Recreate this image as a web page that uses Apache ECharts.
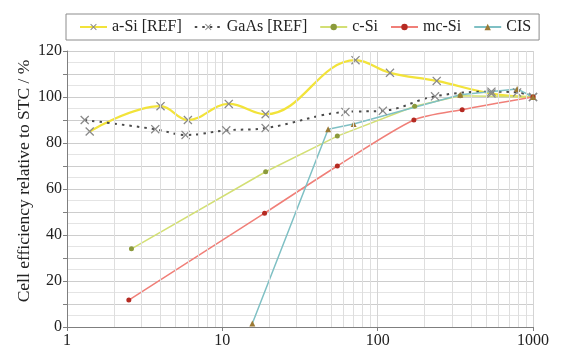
<!DOCTYPE html>
<html>
<head>
<meta charset="utf-8">
<script src="https://cdn.jsdelivr.net/npm/echarts@6/dist/echarts.min.js"></script>
<style>
  html, body { margin: 0; padding: 0; background: #fff; }
  #chart { width: 561px; height: 353px; }
</style>
</head>
<body>
<div id="chart"></div>
<script>
// intensity (x) vs. relative efficiency (y)
const aSiX = [1.4, 4, 6, 11, 19, 72, 120, 240, 540, 1000]
const aSiY = [85, 96, 90, 97, 92.5, 116, 110.5, 107, 101.5, 100]

const gaAsX = [1.3, 3.7, 5.8, 10.6, 19, 62, 108, 234, 540, 790, 1000]
const gaAsY = [90, 86, 83.5, 85.5, 86.5, 93.5, 94, 100.3, 102.3, 102, 100]

const cSiX = [2.6, 19, 55, 173, 340, 1000]
const cSiY = [34, 67.5, 83, 96, 100.5, 100]

const mcSiX = [2.5, 18.7, 55, 171, 350, 1000]
const mcSiY = [11.7, 49.5, 70, 90, 94.5, 100]

const cisX = [15.6, 48, 70, 340, 790, 1000]
const cisY = [1.5, 86, 88.3, 101, 103.5, 100]

const minorLogTicks = [2, 3, 4, 5, 6, 7, 8, 9, 20, 30, 40, 50, 60, 70, 80, 90, 200, 300, 400, 500, 600, 700, 800, 900]
const xTickLabels = [1, 10, 100, 1000]

const FONT = 'Liberation Serif'
const CROSS = 'path://M0,1L1,0L5,4L9,0L10,1L6,5L10,9L9,10L5,6L1,10L0,9L4,5Z'

const pairs = (xs, ys) => xs.map((x, i) => [x, ys[i]])

const chart = echarts.init(document.getElementById('chart'))

chart.setOption({
  backgroundColor: '#fff',
  animation: false,
  grid: { left: 67, right: 28, top: 51, bottom: 26, containLabel: false },
  graphic: [
    {
      type: 'text',
      x: 24,
      y: 181,
      rotation: Math.PI / 2,
      style: {
        text: 'Cell efficiency relative to STC / %',
        fontFamily: FONT,
        fontSize: 17.5,
        fill: '#222',
        align: 'center',
        verticalAlign: 'middle',
      },
    },
  ],
  legend: {
    data: ['a-Si [REF]', 'GaAs [REF]', 'c-Si', 'mc-Si', 'CIS'],
    left: 66,
    top: 14,
    padding: [5, 8, 5, 13],
    itemGap: 12,
    itemWidth: 27,
    itemHeight: 8,
    borderColor: '#8c8c8c',
    borderWidth: 1,
    textStyle: { fontFamily: FONT, fontSize: 16, color: '#222' },
  },
  xAxis: {
    type: 'log',
    logBase: 10,
    min: 1,
    max: 1000,
    axisLine: { lineStyle: { color: '#7f7f7f' } },
    axisTick: { show: true, length: 4, lineStyle: { color: '#7f7f7f' } },
    axisLabel: {
      fontFamily: FONT,
      fontSize: 16,
      color: '#222',
      margin: 6,
      formatter: v => (xTickLabels.includes(Math.round(v)) ? String(Math.round(v)) : ''),
    },
    splitLine: { show: true, lineStyle: { color: '#d4d4d4' } },
  },
  yAxis: {
    type: 'value',
    min: 0,
    max: 120,
    interval: 10,
    axisLine: { show: true, lineStyle: { color: '#7f7f7f' } },
    axisTick: { show: true, length: 4, lineStyle: { color: '#7f7f7f' } },
    axisLabel: {
      fontFamily: FONT,
      fontSize: 16,
      color: '#222',
      margin: 5,
      formatter: v => (v % 20 === 0 ? String(v) : ''),
    },
    splitLine: { show: true, lineStyle: { color: '#cdcdcd' } },
    minorTick: { show: false, splitNumber: 2 },
    minorSplitLine: { show: true, lineStyle: { color: '#e4e4e4' } },
  },
  series: [
    {
      // 对数轴次网格线
      name: 'grid',
      type: 'line',
      data: [],
      z: 1,
      silent: true,
      markLine: {
        silent: true,
        symbol: 'none',
        label: { show: false },
        lineStyle: { color: '#dedede', type: 'solid', width: 1 },
        data: minorLogTicks.map(v => ({ xAxis: v })),
      },
    },
    {
      name: 'a-Si [REF]',
      type: 'line',
      smooth: 0.4,
      data: pairs(aSiX, aSiY),
      lineStyle: { color: '#f2e33a', width: 2.2 },
      symbol: CROSS,
      symbolSize: 9,
      itemStyle: { color: '#8a8a8a' },
    },
    {
      name: 'GaAs [REF]',
      type: 'line',
      smooth: 0.4,
      data: pairs(gaAsX, gaAsY),
      lineStyle: { color: '#4a4a4a', width: 2, type: [2.5, 5] },
      symbol: CROSS,
      symbolSize: 9,
      itemStyle: { color: '#8a8a8a' },
    },
    {
      name: 'c-Si',
      type: 'line',
      data: pairs(cSiX, cSiY),
      lineStyle: { color: '#d3df74', width: 1.5 },
      symbol: 'circle',
      symbolSize: 5,
      itemStyle: { color: '#8b9a3c' },
    },
    {
      name: 'mc-Si',
      type: 'line',
      smooth: 0.25,
      data: pairs(mcSiX, mcSiY),
      lineStyle: { color: '#f07f78', width: 1.5 },
      symbol: 'circle',
      symbolSize: 5,
      itemStyle: { color: '#b52a22' },
    },
    {
      name: 'CIS',
      type: 'line',
      data: pairs(cisX, cisY),
      lineStyle: { color: '#7fc0c4', width: 1.5 },
      symbol: 'triangle',
      symbolSize: 6,
      itemStyle: { color: '#9c7a35' },
    },
  ],
})
</script>
</body>
</html>
